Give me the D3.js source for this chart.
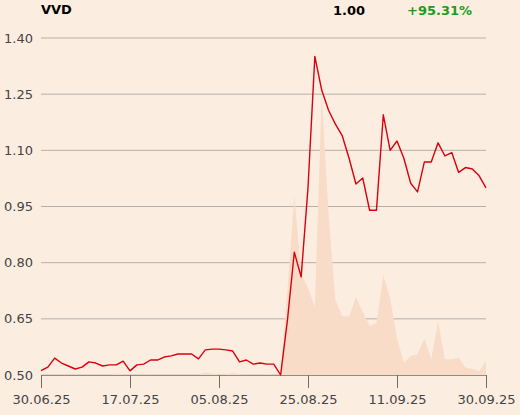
<!DOCTYPE html>
<html>
<head>
<meta charset="utf-8">
<script src="https://cdn.jsdelivr.net/npm/d3@7"></script>
<style>
  html, body { margin: 0; padding: 0; background: #fcede1; }
  svg { display: block; font-family: "DejaVu Sans", sans-serif; }
</style>
</head>
<body>
<main></main>
<script>
const width = 520;
const height = 415;
const margin = {top: 38, right: 34, bottom: 40, left: 41};

// closing prices, one per trading day (30.06.25 - 30.09.25)
const prices = [
  0.512, 0.521, 0.545, 0.532, 0.524, 0.516, 0.521, 0.535, 0.532, 0.524,
  0.527, 0.527, 0.537, 0.511, 0.527, 0.529, 0.540, 0.540, 0.548, 0.551,
  0.556, 0.556, 0.556, 0.543, 0.567, 0.569, 0.569, 0.567, 0.564, 0.535,
  0.540, 0.529, 0.532, 0.529, 0.529, 0.500, 0.647, 0.828, 0.762, 1.000,
  1.351, 1.261, 1.207, 1.170, 1.139, 1.079, 1.010, 1.026, 0.940, 0.940,
  1.195, 1.100, 1.125, 1.079, 1.012, 0.989, 1.069, 1.069, 1.120, 1.085,
  1.094, 1.041, 1.054, 1.050, 1.032, 1.000
];

// traded volume (thousands)
const volumes = [
  0.2, 0.2, 0.2, 0.2, 0.2, 0.2, 0.2, 0.2, 0.2, 0.2,
  0.2, 0.5, 0.2, 0.2, 0.2, 0.3, 0.2, 0.2, 0.2, 0.2,
  0.2, 0.2, 0.2, 0.2, 0.8, 0.5, 0.2, 0.2, 0.8, 0.3,
  0.2, 0.2, 0.2, 0.3, 0.2, 0.0, 30.3, 63.7, 36.3, 31.0,
  24.3, 99.7, 57.7, 26.7, 21.0, 20.8, 27.8, 22.5, 17.5, 18.6,
  35.4, 27.4, 13.2, 4.4, 6.8, 7.4, 13.1, 5.6, 19.2, 5.6,
  5.6, 6.2, 2.7, 2.1, 1.4, 5.1
];

const yTicks = [0.50, 0.65, 0.80, 0.95, 1.10, 1.25, 1.40];
const xTickIndex = [0, 13, 26, 39, 52, 65];
const xTickLabels = ['30.06.25', '17.07.25', '05.08.25', '25.08.25', '11.09.25', '30.09.25'];

const symbol = 'VVD';
const lastPrice = '1.00';
const change = '+95.31%';

const svg = d3.select('main')
  .append('svg')
  .attr('width', width)
  .attr('height', height);

svg.append('rect')
  .attr('width', width)
  .attr('height', height)
  .attr('fill', '#fcede1');

const x = d3.scaleLinear()
  .domain([0, prices.length - 1])
  .range([margin.left, width - margin.right]);

const y = d3.scaleLinear()
  .domain([0.5, 1.4])
  .range([height - margin.bottom, margin.top]);

const yVol = d3.scaleLinear()
  .domain([0, 120])
  .range([height - margin.bottom, margin.top]);

// grid
svg.append('g')
  .selectAll('line')
  .data(yTicks)
  .enter()
  .append('line')
  .attr('x1', x(0))
  .attr('x2', x(prices.length - 1))
  .attr('y1', d => y(d))
  .attr('y2', d => y(d))
  .style('stroke', '#b4b1ad')
  .style('stroke-width', 1);

// volume area
const area = d3.area()
  .x((d, i) => x(i))
  .y0(yVol(0))
  .y1(d => yVol(d));

svg.append('path')
  .datum(volumes)
  .attr('d', area)
  .attr('fill', '#f8dcc7');

// y labels
svg.append('g')
  .selectAll('text')
  .data(yTicks)
  .enter()
  .append('text')
  .attr('x', 33)
  .attr('y', d => y(d))
  .attr('dy', '0.35em')
  .attr('text-anchor', 'end')
  .style('font-size', '13px')
  .style('fill', '#444')
  .text(d => d3.format('.2f')(d));

// x axis
const xAxis = d3.axisBottom(x)
  .tickValues(xTickIndex)
  .tickFormat((d, i) => xTickLabels[i])
  .tickSize(13)
  .tickPadding(7);

const gx = svg.append('g')
  .attr('transform', `translate(0,${y(0.5)})`)
  .call(xAxis);
gx.select('.domain').attr('stroke', '#8f8d8a');
gx.selectAll('.tick line').attr('stroke', '#6f6d6a');
gx.selectAll('.tick text')
  .style('font-size', '13px')
  .style('font-family', '"DejaVu Sans", sans-serif')
  .style('fill', '#444');

// price line
const line = d3.line()
  .x((d, i) => x(i))
  .y(d => y(d));

svg.append('path')
  .datum(prices)
  .attr('d', line)
  .attr('fill', 'none')
  .attr('stroke', '#d9000d')
  .attr('stroke-width', 1.4)
  .attr('stroke-linejoin', 'round');

// header
svg.append('text')
  .attr('x', 41)
  .attr('y', 14)
  .style('font-size', '13px')
  .style('font-weight', 'bold')
  .style('fill', '#000')
  .text(symbol);

svg.append('text')
  .attr('x', 365)
  .attr('y', 15)
  .attr('text-anchor', 'end')
  .style('font-size', '13px')
  .style('font-weight', 'bold')
  .style('fill', '#000')
  .text(lastPrice);

svg.append('text')
  .attr('x', 407)
  .attr('y', 15)
  .style('font-size', '13px')
  .style('font-weight', 'bold')
  .style('fill', '#1a9e1a')
  .text(change);
</script>
</body>
</html>
